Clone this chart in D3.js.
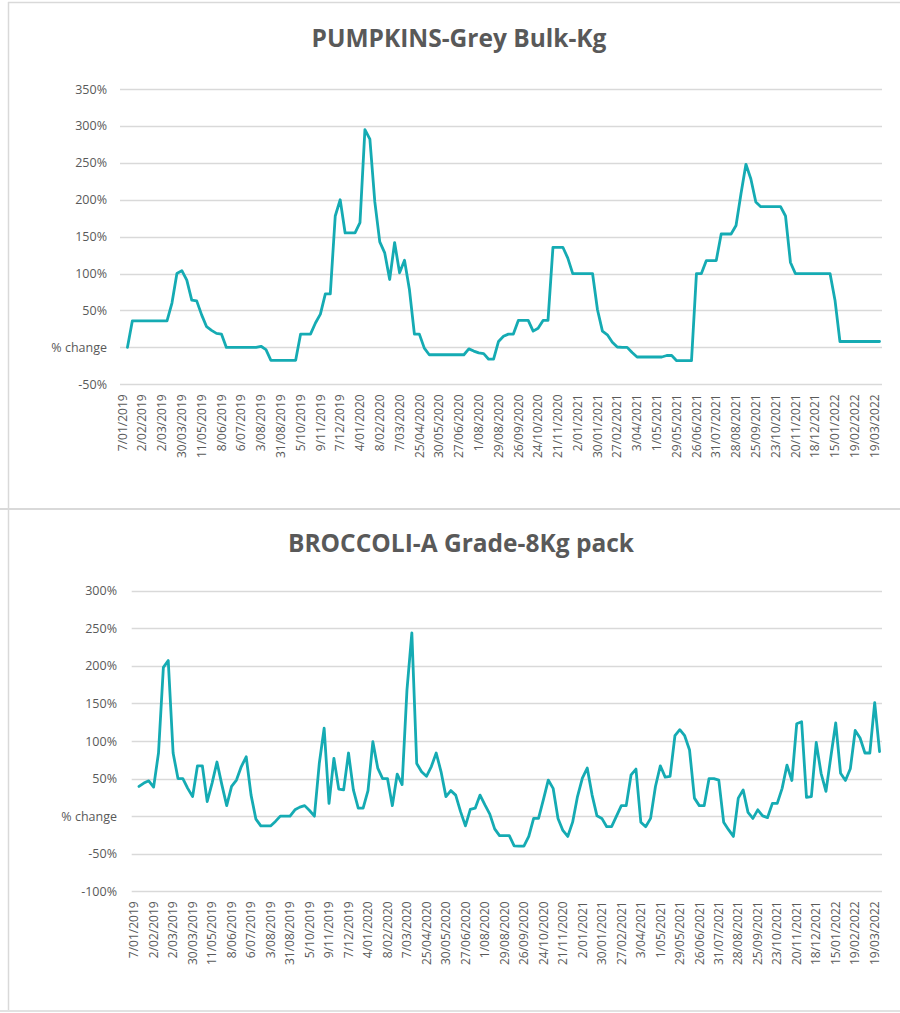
<!DOCTYPE html>
<html>
<head>
<meta charset="utf-8">
<script src="https://cdn.jsdelivr.net/npm/d3@7"></script>
<style>
  html, body { margin: 0; padding: 0; background: #ffffff; }
  svg { display: block; }
</style>
</head>
<body>
<svg id="chart" width="900" height="1013"></svg>
<script>
// ---------------- DATA ----------------
const tickLabels = [
  "7/01/2019","2/02/2019","2/03/2019","30/03/2019","11/05/2019","8/06/2019","6/07/2019",
  "3/08/2019","31/08/2019","5/10/2019","9/11/2019","7/12/2019","4/01/2020","8/02/2020",
  "7/03/2020","25/04/2020","30/05/2020","27/06/2020","1/08/2020","29/08/2020","26/09/2020",
  "24/10/2020","21/11/2020","2/01/2021","30/01/2021","27/02/2021","3/04/2021","1/05/2021",
  "29/05/2021","26/06/2021","31/07/2021","28/08/2021","25/09/2021","23/10/2021","20/11/2021",
  "18/12/2021","15/01/2022","19/02/2022","19/03/2022"
];
const tickEvery = 4; // one label per four weekly categories

// Pumpkins - % change (weekly), 154 categories
const pumpkins = [
  null, 0, 36, 36, 36, 36, 36, 36, 36, 36,
  60, 100, 104, 91, 64, 63, 44, 28, 23, 19,
  18, 0, 0, 0, 0, 0, 0, 0, 1.5, -3,
  -17.5, -17.5, -17.5, -17.5, -17.5, -17.5, 18, 18, 18, 33,
  45, 72.5, 72.5, 178, 200, 155, 155, 155, 169, 295,
  282, 197, 143, 128, 92, 142, 101, 118, 78, 18,
  18, -1, -10, -10, -10, -10, -10, -10, -10, -10,
  -2, -5, -7.5, -8.5, -16, -16, 8, 15, 18, 18,
  36.5, 36.5, 36.5, 22, 26, 36.5, 36.5, 135.6, 135.6, 135.6,
  121, 100, 100, 100, 100, 100, 51, 22, 17, 7,
  0.5, 0, 0, -7, -13, -13, -13, -13, -13, -13,
  -11, -11, -18, -18, -18, -18, 100, 100, 117.6, 117.6,
  117.6, 153.6, 153.6, 153.6, 165, 208, 248, 228, 197, 190.6,
  190.6, 190.6, 190.6, 190.6, 178, 115, 100, 100, 100, 100,
  100, 100, 100, 100, 64, 8, 8, 8, 8, 8,
  8, 8, 8, 8
];

// Broccoli - % change (weekly), 154 categories
const broccoli = [
  null, 39.5, 44, 47, 38.6, 84, 198, 207, 84, 50,
  50, 37, 26, 67, 67, 19.5, 44, 72, 42, 14,
  39.5, 48, 66, 79, 28, -4, -13, -13, -13, -7,
  0, 0, 0, 8.4, 12, 14, 7.5, 0, 70, 117,
  17, 77, 36, 35, 84, 35, 10.6, 10.6, 34, 99,
  64, 50, 50, 14, 56, 42, 168, 244, 70, 59,
  53, 66, 84, 59, 26, 34, 28, 6, -13, 9,
  10.6, 28, 15, 2.7, -17, -26, -26, -26, -39.5, -40,
  -40, -27, -3, -3, 22, 48, 37, -3, -19, -27,
  -8, 26, 50.6, 64, 28, 0.4, -3, -14, -14, 0,
  14, 14, 55, 62.6, -8, -14, -3, 39.5, 67, 52,
  53, 107, 115, 107, 88, 24, 14, 14, 50, 50,
  48, -8, -18, -27, 24, 35, 5, -3, 8.4, 0.4,
  -2, 17, 17, 37, 68, 47.5, 123, 125.6, 25, 26,
  98, 57, 33, 79, 124, 57, 47.5, 63, 114, 104,
  84, 84, 151, 86
];

const pumpkinTicks = [350, 300, 250, 200, 150, 100, 50, 0, -50];
const broccoliTicks = [300, 250, 200, 150, 100, 50, 0, -50, -100];

const categories = d3.range(Math.max(pumpkins.length, broccoli.length));

// ---------------- STYLE ----------------
const LINE_COLOR = "#15abb3";
const GRID_COLOR = "#d9d9d9";
const TEXT_COLOR = "#595959";
const BORDER_COLOR = "#d9d9d9";

const svg = d3.select("#chart");

// panel borders
svg.append("line").attr("x1", 8).attr("x2", 900).attr("y1", 2.5).attr("y2", 2.5)
  .attr("stroke", BORDER_COLOR).attr("stroke-width", 1.5);
svg.append("line").attr("x1", 8.5).attr("x2", 8.5).attr("y1", 2).attr("y2", 1010)
  .attr("stroke", BORDER_COLOR).attr("stroke-width", 1.5);
svg.append("line").attr("x1", 0).attr("x2", 900).attr("y1", 509).attr("y2", 509)
  .attr("stroke", BORDER_COLOR).attr("stroke-width", 2);
svg.append("line").attr("x1", 0).attr("x2", 900).attr("y1", 1011).attr("y2", 1011)
  .attr("stroke", BORDER_COLOR).attr("stroke-width", 1.5);

function pctLabel(v) {
  return v === 0 ? "% change" : v + "%";
}

function drawChart(opt) {
  const g = svg.append("g");

  const x = d3.scaleBand()
    .domain(categories)
    .range([opt.left, opt.right])
    .paddingInner(0).paddingOuter(0);

  const y = d3.scaleLinear()
    .domain([d3.min(opt.ticks), d3.max(opt.ticks)])
    .range([opt.bottom, opt.top]);

  // title
  g.append("text")
    .attr("x", opt.titleX).attr("y", opt.titleY)
    .attr("text-anchor", "middle")
    .attr("font-family", "'Open Sans', sans-serif")
    .attr("font-weight", "700")
    .attr("font-size", 24.5)
    .attr("fill", TEXT_COLOR)
    .text(opt.title);

  // gridlines
  g.append("g").selectAll("line")
    .data(opt.ticks).join("line")
    .attr("x1", opt.left).attr("x2", opt.right)
    .attr("y1", d => Math.round(y(d)) + 0.5).attr("y2", d => Math.round(y(d)) + 0.5)
    .attr("stroke", GRID_COLOR).attr("stroke-width", 1.3);

  // y axis labels
  const yAxis = d3.axisLeft(y).tickValues(opt.ticks).tickSize(0).tickPadding(0)
    .tickFormat(pctLabel);
  const ya = g.append("g").attr("transform", `translate(${opt.yLabelX},0)`).call(yAxis);
  ya.select(".domain").remove();
  ya.selectAll("text")
    .attr("font-family", "'Open Sans', sans-serif")
    .attr("font-size", 12.5)
    .attr("fill", TEXT_COLOR);

  // x axis labels
  const labelled = categories.filter(c => c % tickEvery === 0 && c / tickEvery < tickLabels.length);
  const xAxis = d3.axisBottom(x).tickValues(labelled).tickSize(0).tickPadding(0)
    .tickFormat(c => tickLabels[c / tickEvery]);
  const xa = g.append("g").attr("transform", `translate(0,${opt.bottom})`).call(xAxis);
  xa.select(".domain").remove();
  xa.selectAll("text")
    .attr("font-family", "'Open Sans', sans-serif")
    .attr("font-size", 12)
    .attr("fill", TEXT_COLOR)
    .attr("text-anchor", "end")
    .attr("transform", "rotate(-90)")
    .attr("x", -opt.xLabelGap)
    .attr("y", 0)
    .attr("dy", "0.35em");

  // line
  const line = d3.line()
    .defined(d => d[1] !== null)
    .x(d => x(d[0]) + x.bandwidth() / 2)
    .y(d => y(d[1]));

  g.append("path")
    .datum(opt.values.map((v, i) => [categories[i], v]))
    .attr("fill", "none")
    .attr("stroke", LINE_COLOR)
    .attr("stroke-width", 2.8)
    .attr("stroke-linejoin", "round")
    .attr("stroke-linecap", "round")
    .attr("d", line);
}

drawChart({
  title: "PUMPKINS-Grey Bulk-Kg",
  titleX: 459, titleY: 47,
  values: pumpkins, ticks: pumpkinTicks,
  left: 120, right: 882, top: 89, bottom: 384.3,
  yLabelX: 107, xLabelGap: 10
});

drawChart({
  title: "BROCCOLI-A Grade-8Kg pack",
  titleX: 461, titleY: 552,
  values: broccoli, ticks: broccoliTicks,
  left: 131.7, right: 882, top: 590.7, bottom: 891.3,
  yLabelX: 117, xLabelGap: 10
});
</script>
</body>
</html>
